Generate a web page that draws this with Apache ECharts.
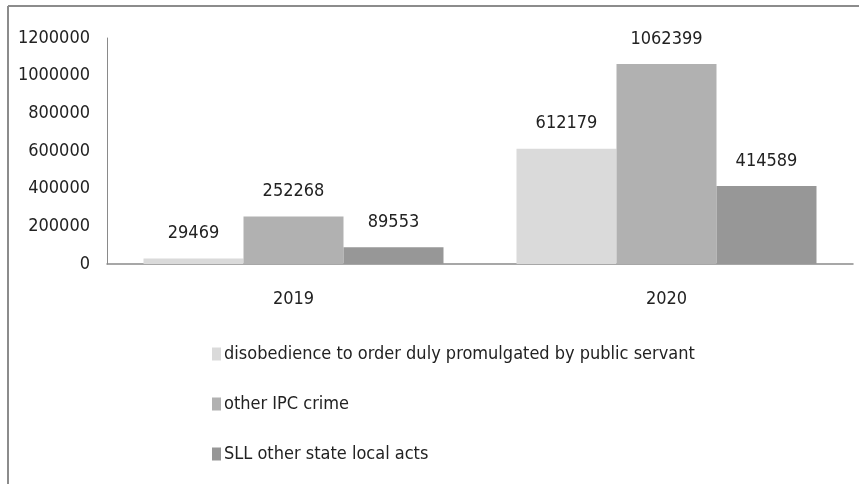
<!DOCTYPE html>
<html>
<head>
<meta charset="utf-8">
<script src="https://cdn.jsdelivr.net/npm/echarts@6/dist/echarts.min.js"></script>
<style>
html, body { margin: 0; padding: 0; background: #fff; }
#chart { width: 859px; height: 484px; }
</style>
</head>
<body>
<div id="chart"></div>
<script>
var years = ['2019', '2020'];
var disobedience = [29469, 612179];
var otherIPC = [252268, 1062399];
var sllActs = [89553, 414589];
var seriesNames = [
    'disobedience to order duly promulgated by public servant',
    'other IPC crime',
    'SLL other state local acts'
];
var barColors = ['#dadada', '#b1b1b1', '#979797'];
var yTicks = [0, 200000, 400000, 600000, 800000, 1000000, 1200000];

var FONT = "'Liberation Sans Narrow', 'DejaVu Sans Condensed', sans-serif";

var myChart = echarts.init(document.getElementById('chart'));

function makeBar(idx, data) {
    return {
        name: seriesNames[idx],
        type: 'bar',
        data: data,
        barWidth: 100,
        barGap: '0%',
        itemStyle: { color: barColors[idx] },
        label: {
            show: true,
            position: 'top',
            distance: 16,
            color: '#222',
            fontFamily: FONT,
            fontSize: 18
        }
    };
}

var option = {
    backgroundColor: '#fff',
    animation: false,
    grid: { left: 107, right: 6, top: 38, bottom: 220, outerBoundsMode: 'none', containLabel: false },
    legend: {
        orient: 'vertical',
        left: 207,
        top: 340,
        itemGap: 32,
        itemWidth: 9,
        itemHeight: 13,
        icon: 'rect',
        data: seriesNames,
        textStyle: { fontFamily: FONT, fontSize: 18, color: '#222', padding: [0, 0, 0, -2] }
    },
    xAxis: {
        type: 'category',
        data: years,
        axisLine: { lineStyle: { color: '#8a8a8a', width: 1.5 } },
        axisTick: { show: false },
        axisLabel: { fontFamily: FONT, fontSize: 18, color: '#222', margin: 26 }
    },
    yAxis: {
        type: 'value',
        min: yTicks[0],
        max: yTicks[yTicks.length - 1],
        interval: 200000,
        axisLine: { show: true, lineStyle: { color: '#8a8a8a', width: 1 } },
        axisTick: { show: false },
        splitLine: { show: false },
        axisLabel: {
            fontFamily: FONT, fontSize: 18, color: '#222', margin: 17,
            formatter: function (v) { return String(v); }
        }
    },
    graphic: [
        { type: 'line', shape: { x1: 8, y1: 6, x2: 859, y2: 6 }, style: { stroke: '#8c8c8c', lineWidth: 2 } },
        { type: 'line', shape: { x1: 8, y1: 6, x2: 8, y2: 484 }, style: { stroke: '#8c8c8c', lineWidth: 2 } }
    ],
    series: [
        makeBar(0, disobedience),
        makeBar(1, otherIPC),
        makeBar(2, sllActs)
    ]
};
myChart.setOption(option);
</script>
</body>
</html>
